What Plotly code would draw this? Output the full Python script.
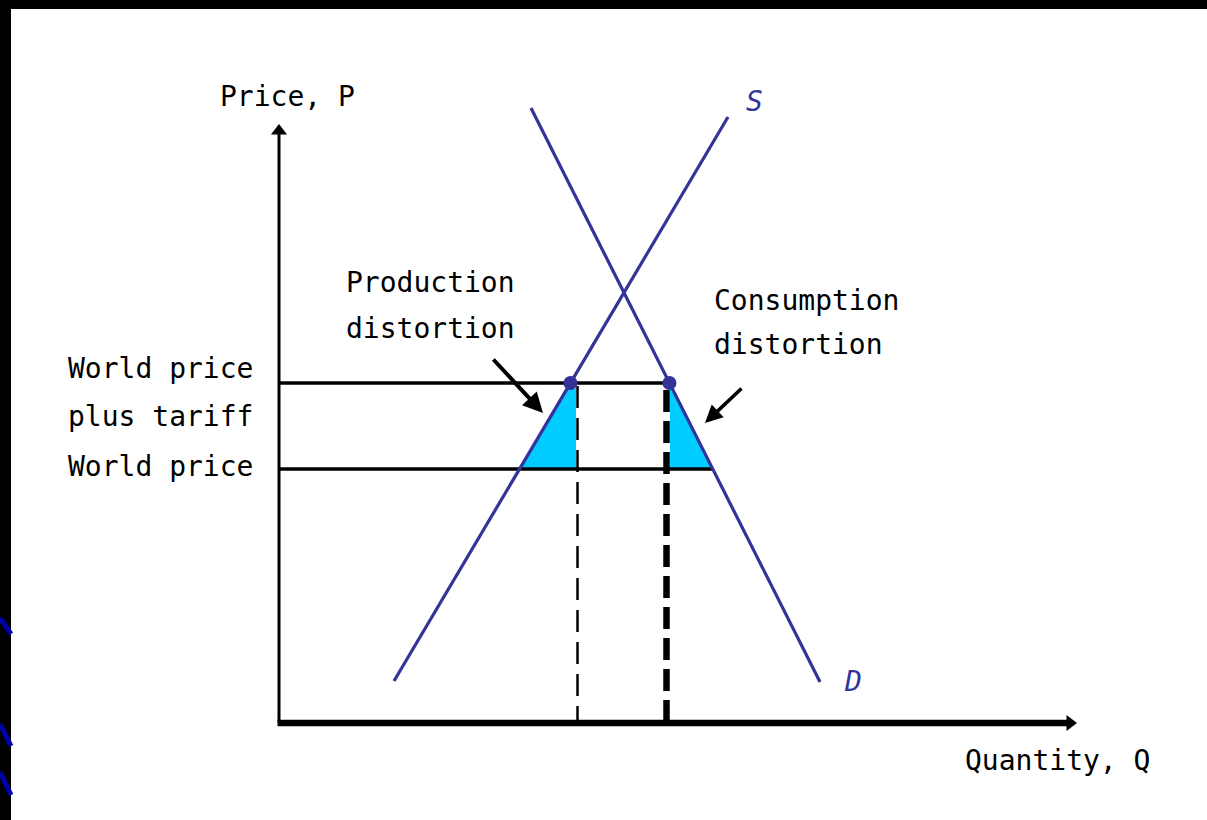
import numpy as np
import plotly.graph_objects as go

# ---- data (economic units: Quantity, Price) ----
supply_q = [11.5, 44.9]
supply_p = [4.1, 60.5]
demand_q = [25.2, 54.1]
demand_p = [61.4, 4.0]
world_price = 25.3
world_price_plus_tariff = 33.9
q_prod_dash = 29.85   # thin dashed line (domestic production with tariff)
q_cons_dash = 38.75   # thick dashed line (domestic consumption with tariff)
axis_q_max = 79.8
axis_p_max = 59.8

labels_left = ["World price", "plus tariff", "World price"]

# ---- helpers: pixel -> data (10 px per unit, origin at pixel (279, 722)) ----
def X(px):
    return (px - 279) / 10.0

def Y(py):
    return (722 - py) / 10.0

def q_supply(p):
    return float(np.interp(p, supply_p, supply_q))

def q_demand(p):
    return float(np.interp(p, demand_p[::-1], demand_q[::-1]))

BLUE = "#333399"
CYAN = "#00CCFF"
FONT = "DejaVu Sans Mono"

qs_w = q_supply(world_price)
qs_t = q_supply(world_price_plus_tariff)
qd_w = q_demand(world_price)
qd_t = q_demand(world_price_plus_tariff)
p_top = world_price_plus_tariff - 0.55

fig = go.Figure()

# cyan triangles (deadweight losses)
fig.add_trace(go.Scatter(
    x=[qs_w, q_prod_dash - 0.15, q_prod_dash - 0.15, q_supply(p_top), qs_w],
    y=[world_price, world_price, p_top, p_top, world_price],
    fill="toself", fillcolor=CYAN, mode="lines", line=dict(width=0),
    hoverinfo="skip", showlegend=False))
fig.add_trace(go.Scatter(
    x=[q_cons_dash + 0.35, qd_w, q_demand(p_top), q_cons_dash + 0.35, q_cons_dash + 0.35],
    y=[world_price, world_price, p_top, p_top, world_price],
    fill="toself", fillcolor=CYAN, mode="lines", line=dict(width=0),
    hoverinfo="skip", showlegend=False))

# horizontal price lines
fig.add_trace(go.Scatter(x=[0, qd_t], y=[world_price_plus_tariff] * 2, mode="lines",
                         line=dict(color="black", width=3.5), hoverinfo="skip", showlegend=False))
fig.add_trace(go.Scatter(x=[0, qd_w], y=[world_price] * 2, mode="lines",
                         line=dict(color="black", width=3.5), hoverinfo="skip", showlegend=False))

# dashed verticals
fig.add_trace(go.Scatter(x=[q_prod_dash] * 2, y=[world_price_plus_tariff - 0.3, 0], mode="lines",
                         line=dict(color="black", width=2.5, dash="22px,10px"),
                         hoverinfo="skip", showlegend=False))
fig.add_trace(go.Scatter(x=[q_cons_dash] * 2, y=[world_price_plus_tariff - 0.7, 0], mode="lines",
                         line=dict(color="black", width=6.5, dash="22px,9px"),
                         hoverinfo="skip", showlegend=False))

# supply and demand
fig.add_trace(go.Scatter(x=supply_q, y=supply_p, mode="lines",
                         line=dict(color=BLUE, width=3.2), hoverinfo="skip", showlegend=False))
fig.add_trace(go.Scatter(x=demand_q, y=demand_p, mode="lines",
                         line=dict(color=BLUE, width=3.2), hoverinfo="skip", showlegend=False))

# intersection dots
fig.add_trace(go.Scatter(x=[qs_t, qd_t], y=[world_price_plus_tariff] * 2, mode="markers",
                         marker=dict(color=BLUE, size=14), hoverinfo="skip", showlegend=False))

# axes
fig.add_trace(go.Scatter(x=[0, 0], y=[0, axis_p_max - 0.5], mode="lines",
                         line=dict(color="black", width=3), hoverinfo="skip", showlegend=False))
fig.add_trace(go.Scatter(x=[-0.15, axis_q_max - 0.6], y=[-0.1, -0.1], mode="lines",
                         line=dict(color="black", width=6.5), hoverinfo="skip", showlegend=False))
fig.add_trace(go.Scatter(x=[0], y=[axis_p_max - 0.7], mode="markers",
                         marker=dict(symbol="triangle-up", size=14, color="black"),
                         hoverinfo="skip", showlegend=False))
fig.add_trace(go.Scatter(x=[axis_q_max - 0.7], y=[-0.1], mode="markers",
                         marker=dict(symbol="triangle-right", size=14, color="black"),
                         hoverinfo="skip", showlegend=False))

ann = []

def txt(text, px, py, color="black", xanchor="left", italic=False, size=28):
    ann.append(dict(x=X(px), y=Y(py), xref="x", yref="y", text=text, showarrow=False,
                    xanchor=xanchor, yanchor="middle",
                    font=dict(family=FONT, size=size, color=color,
                              style="italic" if italic else "normal")))

txt("Price, P", 218, 96)
txt("S", 744, 101, color=BLUE, italic=True)
txt("D", 842, 681, color=BLUE, italic=True)
txt("Quantity, Q", 963, 760)
txt("Production", 344, 282)
txt("distortion", 344, 328)
txt("Consumption", 712, 300)
txt("distortion", 712, 344)
txt(labels_left[0], 66, 368)
txt(labels_left[1], 66, 416)
txt(labels_left[2], 66, 466)

# pointer arrows
ann.append(dict(x=X(543), y=Y(413), ax=X(492), ay=Y(358), xref="x", yref="y",
                axref="x", ayref="y", text="", showarrow=True, arrowhead=2,
                arrowsize=1, arrowwidth=4, arrowcolor="black"))
ann.append(dict(x=X(705), y=Y(423), ax=X(743), ay=Y(387), xref="x", yref="y",
                axref="x", ayref="y", text="", showarrow=True, arrowhead=2,
                arrowsize=1, arrowwidth=3.5, arrowcolor="black"))

shapes = [
    dict(type="rect", xref="paper", yref="paper", x0=0, x1=1, y0=1 - 9 / 820, y1=1,
         fillcolor="black", line=dict(width=0), layer="above"),
    dict(type="rect", xref="paper", yref="paper", x0=0, x1=11 / 1207, y0=0, y1=1,
         fillcolor="black", line=dict(width=0), layer="above"),
]
for (y0, y1) in [(618, 634), (724, 746), (772, 795)]:
    shapes.append(dict(type="line", xref="paper", yref="paper",
                       x0=0, y0=1 - y0 / 820, x1=11 / 1207, y1=1 - y1 / 820,
                       line=dict(color="#0000A8", width=5), layer="above"))

fig.update_layout(
    width=1207, height=820,
    margin=dict(l=0, r=0, t=0, b=0),
    paper_bgcolor="white", plot_bgcolor="white",
    xaxis=dict(range=[X(0), X(1207)], visible=False, fixedrange=True),
    yaxis=dict(range=[Y(820), Y(0)], visible=False, fixedrange=True),
    annotations=ann, shapes=shapes, showlegend=False,
)

fig.write_html("out.html", post_script="document.body.style.margin='0';",
               config={"displayModeBar": False})
